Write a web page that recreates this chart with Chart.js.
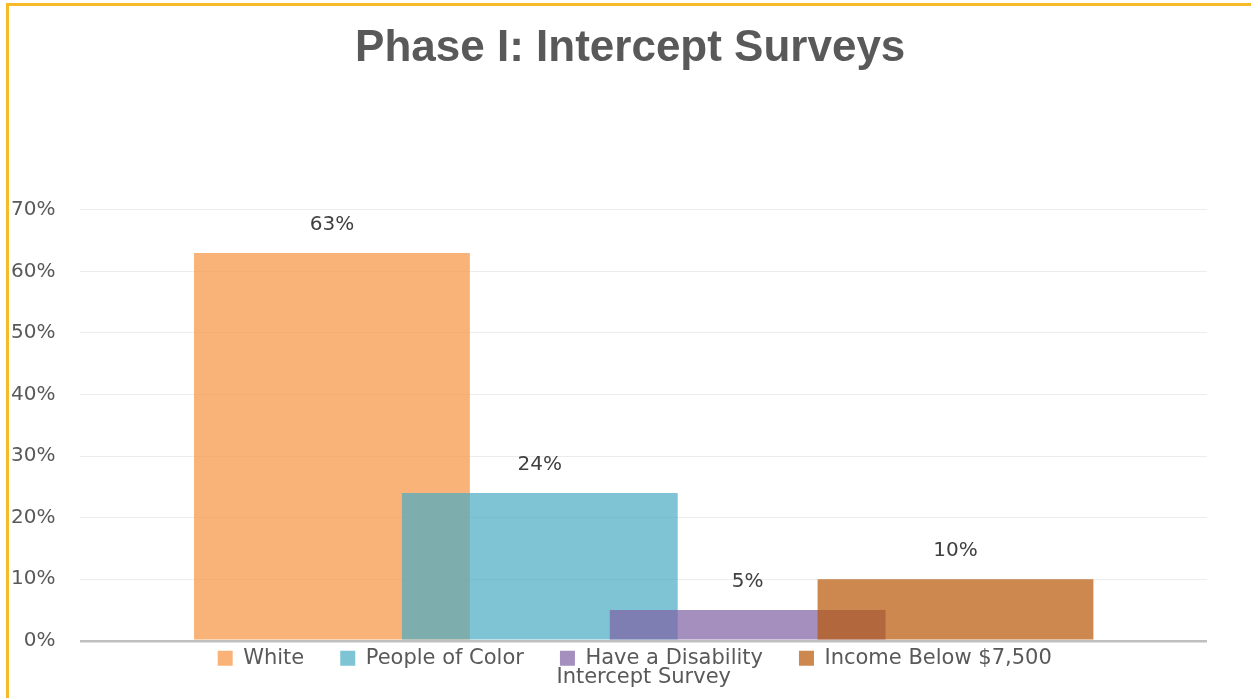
<!DOCTYPE html>
<html>
<head>
<meta charset="utf-8">
<script src="https://cdn.jsdelivr.net/npm/chart.js@4"></script>
<style>
  html, body { margin: 0; padding: 0; background: #ffffff; }
  #wrap { position: relative; width: 1251px; height: 698px; overflow: hidden; }
  #frame { position: absolute; left: 6px; top: 3px; right: -10px; bottom: -10px;
           border-left: 3px solid #F9BA27; border-top: 3px solid #F9BA27; pointer-events: none; }
  canvas { position: absolute; left: 0; top: 0; }
</style>
</head>
<body>
<div id="wrap">
  <canvas id="c" width="1251" height="698"></canvas>
  <div id="frame"></div>
</div>
<script>
// ---- data ----
const chartTitle = 'Phase I: Intercept Surveys';
const categories = ['Intercept Survey'];
const seriesNames = ['White', 'People of Color', 'Have a Disability', 'Income Below $7,500'];
const whiteValues = [0.63];
const peopleOfColorValues = [0.24];
const disabilityValues = [0.05];
const lowIncomeValues = [0.10];
const yTickStep = 0.1;
const yMax = 0.7;

// ---- styles ----
const seriesColors = [
  'rgba(246,148,68,0.72)',
  'rgba(72,171,195,0.70)',
  'rgba(126,95,164,0.70)',
  'rgba(184,86,6,0.70)'
];
const seriesValues = [whiteValues, peopleOfColorValues, disabilityValues, lowIncomeValues];
const textGray = '#595959';
const legendPadding = 36;
const legendFontSize = 21;

const datasets = seriesNames.map((name, i) => ({
  label: name,
  data: seriesValues[i],
  backgroundColor: seriesColors[i],
  borderWidth: 0,
  categoryPercentage: 0.738,
  barPercentage: 1.327
}));

function recenter(box, center) {
  const w = box.right - box.left;
  box.left = center - w / 2;
  box.right = center + w / 2;
}

// Layout tweaks, draw order (later series on top) and value labels
const drawPlugin = {
  id: 'drawOrderAndLabels',
  afterLayout(chart) {
    const ca = chart.chartArea;
    const mid = (ca.left + ca.right) / 2;
    recenter(chart.titleBlock, mid - 13.5);
    const lg = chart.legend;
    recenter(lg, mid - 9);
    const top = ca.bottom + 17.5 - legendPadding - legendFontSize / 2;
    lg.top = top;
    lg.height = 80;
    lg.bottom = top + 80;
  },
  beforeDatasetsDraw(chart) {
    const metas = chart.getSortedVisibleDatasetMetas().slice().sort((a, b) => a.index - b.index);
    for (const meta of metas) meta.controller.draw();
    const ctx = chart.ctx;
    ctx.save();
    ctx.font = '20px "DejaVu Sans"';
    ctx.fillStyle = '#404040';
    ctx.textAlign = 'center';
    ctx.textBaseline = 'middle';
    for (const meta of metas) {
      const vals = chart.data.datasets[meta.index].data;
      meta.data.forEach((bar, j) => {
        ctx.fillText(Math.round(vals[j] * 100) + '%', bar.x, bar.y - 28);
      });
    }
    ctx.restore();
    return false;
  }
};

new Chart(document.getElementById('c'), {
  type: 'bar',
  data: { labels: categories, datasets },
  plugins: [drawPlugin],
  options: {
    responsive: false,
    animation: false,
    events: [],
    layout: { padding: { left: -14, right: 44, top: 0, bottom: -9 } },
    plugins: {
      title: {
        display: true,
        text: chartTitle,
        color: textGray,
        font: { family: '"Liberation Sans", Arial, sans-serif', size: 44, weight: 'bold' },
        padding: { top: 22, bottom: 135 }
      },
      legend: {
        display: true,
        position: 'bottom',
        maxHeight: 1,
        labels: {
          boxWidth: 15,
          boxHeight: 15,
          padding: legendPadding,
          color: textGray,
          font: { family: '"DejaVu Sans"', size: legendFontSize }
        }
      },
      tooltip: { enabled: false }
    },
    scales: {
      x: {
        grid: { display: false },
        border: { display: false },
        ticks: {
          color: textGray,
          padding: 16,
          font: { family: '"DejaVu Sans"', size: 21 }
        }
      },
      y: {
        min: 0,
        max: yMax,
        border: { display: false },
        grid: {
          drawTicks: false,
          color: (c) => (c.tick && c.tick.value === 0 ? '#BFBFBF' : '#ECECEC'),
          lineWidth: (c) => (c.tick && c.tick.value === 0 ? 2.5 : 1)
        },
        ticks: {
          stepSize: yTickStep,
          padding: 25,
          color: textGray,
          font: { family: '"DejaVu Sans"', size: 20 },
          callback: (v) => Math.round(v * 100) + '%'
        }
      }
    }
  }
});
</script>
</body>
</html>
